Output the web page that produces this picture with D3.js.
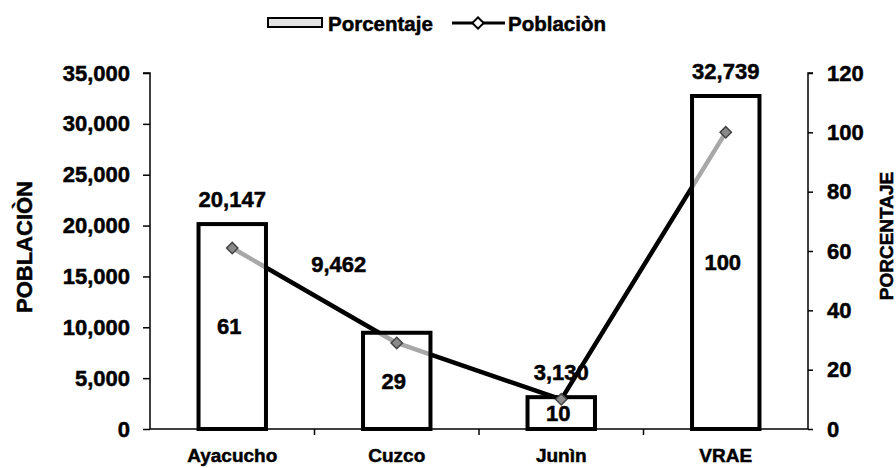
<!DOCTYPE html>
<html>
<head>
<meta charset="utf-8">
<script src="https://cdn.jsdelivr.net/npm/d3@7"></script>
<style>
  body { margin: 0; background: #fff; }
  svg { display: block; font-family: "Liberation Sans", Arial, sans-serif; font-weight: bold; }
  svg text { stroke: #000; stroke-width: 0.5px; }
</style>
</head>
<body>
<svg id="chart" width="896" height="468"></svg>
<script>
const categories = ['Ayacucho', 'Cuzco', 'Junìn', 'VRAE'];
const poblacion = [20147, 9462, 3130, 32739];
const porcentaje = [61, 29, 10, 100];
const popTicks = [0, 5000, 10000, 15000, 20000, 25000, 30000, 35000];
const pctTicks = [0, 20, 40, 60, 80, 100, 120];

const svg = d3.select('#chart');
const plotL = 150, plotR = 808, plotT = 73, plotB = 429;

const x = d3.scaleBand().domain(categories).range([plotL, plotR]);
const yPop = d3.scaleLinear().domain([0, 35000]).range([plotB, plotT]);
const yPct = d3.scaleLinear().domain([0, 120]).range([plotB, plotT]);
const barW = x.bandwidth() * 0.41;
const cx = c => x(c) + x.bandwidth() / 2;

const rows = categories.map((c, i) => ({ c, pop: poblacion[i], pct: porcentaje[i] }));

// left axis
const gl = svg.append('g').attr('transform', `translate(${plotL},0)`)
    .call(d3.axisLeft(yPop).tickValues(popTicks).tickFormat(d3.format(',')).tickSize(7).tickPadding(13));
gl.selectAll('text').attr('font-size', 22).attr('font-family', null).attr('fill', '#000');
gl.selectAll('line, path').attr('stroke', '#000').attr('stroke-width', 1.5);
gl.select('.domain').attr('d', `M-7,${plotT}H0V${plotB}`);

// right axis
const gr = svg.append('g').attr('transform', `translate(${plotR},0)`)
    .call(d3.axisRight(yPct).tickValues(pctTicks).tickSize(5).tickPadding(14));
gr.selectAll('text').attr('font-size', 22).attr('font-family', null).attr('fill', '#000');
gr.selectAll('line, path').attr('stroke', '#000').attr('stroke-width', 1.5);
gr.select('.domain').attr('d', `M5,${plotT}H0V${plotB}`);

// bottom axis (labels only, separators drawn below)
const gb = svg.append('g').attr('transform', `translate(0,${plotB})`)
    .call(d3.axisBottom(x).tickSize(0).tickPadding(20));
gb.selectAll('text').attr('font-size', 19).attr('font-family', null).attr('fill', '#000');
gb.select('.domain').attr('stroke', '#000').attr('stroke-width', 1.5).attr('d', `M${plotL},0H${plotR}`);
gb.selectAll('.sep').data(categories.slice(1)).join('line')
    .attr('class', 'sep')
    .attr('x1', d => x(d)).attr('x2', d => x(d))
    .attr('y1', 0).attr('y2', 6)
    .attr('stroke', '#000').attr('stroke-width', 1.5);

// line (drawn under the bars so it fades inside them, like the print)
const line = d3.line().x(d => cx(d.c)).y(d => yPct(d.pct));
svg.append('path').datum(rows)
    .attr('d', line)
    .attr('fill', 'none')
    .attr('stroke', '#000')
    .attr('stroke-width', 4.5)
    .attr('stroke-linejoin', 'round');

// bars
svg.selectAll('rect.bar').data(rows).join('rect')
    .attr('class', 'bar')
    .attr('x', d => cx(d.c) - barW / 2)
    .attr('width', barW)
    .attr('y', d => yPop(d.pop))
    .attr('height', d => plotB - yPop(d.pop))
    .attr('fill', '#fff')
    .attr('fill-opacity', 0.66)
    .attr('stroke', '#000')
    .attr('stroke-width', 4);

// markers
const diamond = d3.symbol().type(d3.symbolSquare).size(64);
svg.selectAll('path.mk').data(rows).join('path')
    .attr('class', 'mk')
    .attr('d', diamond)
    .attr('transform', d => `translate(${cx(d.c)},${yPct(d.pct)}) rotate(45)`)
    .attr('fill', '#8a8a8a')
    .attr('stroke', '#444')
    .attr('stroke-width', 1.5);

// population labels above bars ("9,462" was moved by hand in the original)
svg.selectAll('text.pop').data(rows).join('text')
    .attr('class', 'pop')
    .attr('x', d => cx(d.c) + (d.c === 'Cuzco' ? -58 : 0))
    .attr('y', d => yPop(d.pop) - 17 + (d.c === 'Cuzco' ? -44 : 0))
    .attr('text-anchor', 'middle')
    .attr('font-size', 22)
    .text(d => d3.format(',')(d.pop));

// percentage labels in the middle of each bar
svg.selectAll('text.pct').data(rows).join('text')
    .attr('class', 'pct')
    .attr('x', d => cx(d.c) - 3)
    .attr('y', d => (yPop(d.pop) + plotB) / 2)
    .attr('dy', '0.36em')
    .attr('text-anchor', 'middle')
    .attr('font-size', 22)
    .text(d => d.pct);

// axis titles
svg.append('text')
    .attr('transform', `translate(32,247) rotate(-90)`)
    .attr('text-anchor', 'middle')
    .attr('font-size', 22)
    .text('POBLACIÒN');
svg.append('text')
    .attr('transform', `translate(893,236) rotate(-90)`)
    .attr('text-anchor', 'middle')
    .attr('font-size', 19)
    .text('PORCENTAJE');

// legend
const lg = svg.append('g');
lg.append('rect')
    .attr('x', 268).attr('y', 18).attr('width', 54).attr('height', 9)
    .attr('fill', '#e4e4e4').attr('stroke', '#000').attr('stroke-width', 2);
lg.append('text').attr('x', 328).attr('y', 31).attr('font-size', 20.5).text('Porcentaje');
lg.append('line')
    .attr('x1', 452).attr('x2', 505).attr('y1', 23).attr('y2', 23)
    .attr('stroke', '#000').attr('stroke-width', 3);
lg.append('path')
    .attr('d', diamond)
    .attr('transform', 'translate(478,23) rotate(45)')
    .attr('fill', '#fff').attr('stroke', '#000').attr('stroke-width', 2);
lg.append('text').attr('x', 508).attr('y', 31).attr('font-size', 20.5).text('Poblaciòn');
</script>
</body>
</html>
